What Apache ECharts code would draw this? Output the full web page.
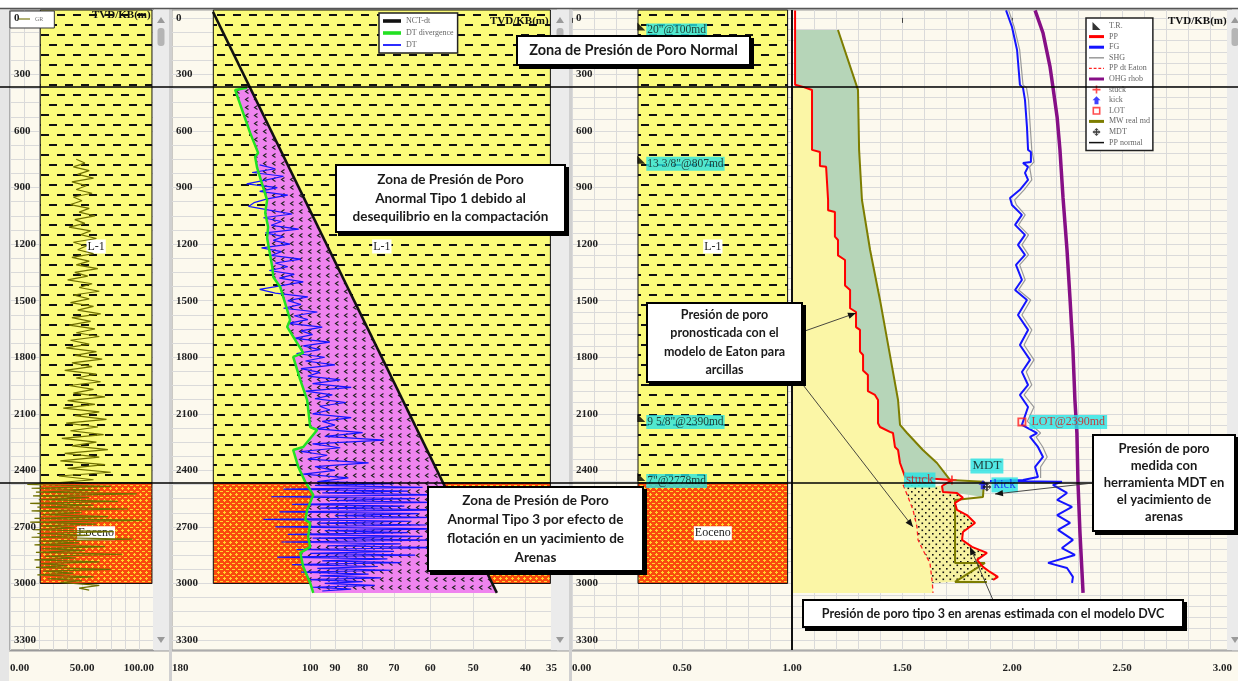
<!DOCTYPE html>
<html>
<head>
<meta charset="utf-8">
<script src="https://cdn.jsdelivr.net/npm/echarts@6.0.0/dist/echarts.min.js"></script>
<style>
html, body { margin: 0; padding: 0; background: #fff; }
#main { width: 1238px; height: 681px; }
</style>
</head>
<body>
<div id="main"></div>
<script>
// ---- ticks / labels
var depthLabels = [0, 300, 600, 900, 1200, 1500, 1800, 2100, 2400, 2700, 3000, 3300];
var grTicks = [0, 50, 100];
var dtTicks = [180, 100, 90, 80, 70, 60, 50, 40, 35];
var dtGridTicks = [100, 90, 80, 70, 60, 50, 40];
var presTicks = [0, 0.5, 1, 1.5, 2, 2.5, 3];
var cursorDepths = [366, 2467];

// ---- lithology (TVD m)
var lithology = [
  { name: 'L-1', top: -42, base: 2467, kind: 'shale' },
  { name: 'Eoceno', top: 2467, base: 3000, kind: 'sand' }
];

// ---- track 1 : GR  [api, depth]
var grData = [
  [46,750],[52,770],[44,790],[55,810],[47,830],[58,850],[43,870],[53,890],[46,910],[57,930],[44,950],[50,970],
  [42,990],[55,1010],[48,1030],[59,1050],[45,1070],[52,1090],[41,1110],[56,1130],[49,1150],[60,1170],[44,1190],
  [53,1210],[47,1230],[58,1250],[43,1270],[55,1290],[46,1310],[61,1330],[45,1350],[54,1370],[40,1390],[57,1410],
  [48,1430],[62,1450],[44,1470],[55,1490],[42,1510],[58,1530],[47,1550],[63,1570],[43,1590],[56,1610],[41,1630],
  [59,1650],[46,1670],[62,1690],[42,1710],[55,1730],[39,1750],[60,1770],[45,1790],[64,1810],[43,1830],[57,1850],
  [38,1870],[60,1890],[46,1910],[63,1930],[41,1950],[58,1970],[44,1990],[66,2010],[40,2030],[59,2050],[37,2070],
  [62,2090],[45,2110],[67,2130],[39,2150],[61,2170],[42,2190],[65,2210],[36,2230],[60,2250],[43,2270],[68,2290],
  [38,2310],[62,2330],[35,2350],[66,2370],[40,2390],[70,2410],[34,2430],[58,2450],[30,2467],
  [12,2475],[70,2485],[15,2495],[62,2505],[18,2515],[88,2525],[16,2535],[55,2545],[20,2555],[75,2565],[14,2575],
  [58,2585],[19,2595],[82,2605],[15,2615],[50,2625],[22,2635],[68,2645],[17,2655],[92,2665],[14,2675],[60,2685],
  [21,2695],[45,2705],[16,2715],[72,2725],[19,2735],[55,2745],[15,2755],[85,2765],[20,2775],[48,2785],[17,2795],
  [66,2805],[22,2815],[52,2825],[18,2835],[78,2845],[24,2855],[46,2865],[17,2875],[62,2885],[21,2895],[40,2905],
  [18,2915],[70,2925],[23,2935],[44,2945],[19,2955],[58,2965],[26,2975],[50,2985],[35,2995],[62,3010],[48,3025],[55,3035]
];

// ---- track 2 : sonic  [us/ft, depth]
var nctDt = [[151.2, -32], [45.2, 3050]];
var dtDivergence = [
  [130.8,371],[137.6,382],[133.6,488],[129.1,610],[124.8,716],[126.4,737],[125.3,796],[122.2,897],[120.1,966],
  [121.1,1034],[119.6,1109],[120.1,1167],[117.5,1321],[117.0,1374],[113.6,1427],[110.3,1549],[108.9,1602],
  [110.3,1639],[103.0,1777],[107.5,1798],[104.3,1920],[101.3,2027],[100,2170],[97.1,2186],[103.0,2276],
  [107.5,2292],[105.2,2382],[102.1,2461],[100,2504],[98.7,2530],[101.3,2610],[102.1,2663],[100,2679],
  [100.9,2753],[100,2806],[104.3,2838],[103.0,2912],[100,2997],[98.7,3050]
];
var dtData = [
  [124,780],[116,800],[128,820],[112,840],[121,860],[131,880],[115,900],[124,920],[110,940],[120,960],[127,980],
  [130,1000],[119,1020],[108,1040],[122,1060],[113,1080],[118,1100],[105,1120],[121,1140],[112,1160],[117,1180],
  [109,1200],[123,1220],[113,1240],[118,1260],[104,1280],[116,1300],[110,1320],[119,1340],[107,1360],[114,1380],
  [103,1400],[113,1420],[124,1440],[116,1460],[101,1480],[110,1500],[104,1520],[112,1540],[97,1560],[107,1580],
  [101,1600],[110,1620],[95,1640],[104,1660],[99,1680],[107,1700],[92,1720],[103,1740],[96,1760],[106,1780],
  [94,1800],[102,1820],[90,1840],[104,1860],[96,1880],[101,1900],[88,1920],[99,1940],[84,1960],[102,1980],
  [91,2000],[98,2020],[86,2040],[96,2060],[92,2080],[99,2100],[84,2120],[95,2140],[90,2160],[97,2180],[80,2200],
  [94,2220],[73,2240],[99,2260],[88,2280],[104,2300],[93,2320],[101,2340],[78,2360],[98,2380],[90,2400],
  [103,2420],[85,2440],[97,2460],
  [70,2470],[98,2480],[62,2490],[112,2500],[66,2510],[95,2520],[58,2530],[118,2540],[64,2550],[92,2560],
  [60,2570],[108,2580],[67,2590],[96,2600],[56,2610],[114,2620],[63,2630],[90,2640],[59,2650],[122,2660],
  [65,2670],[97,2680],[61,2690],[116,2700],[57,2710],[94,2720],[66,2730],[110,2740],[62,2750],[99,2760],
  [60,2770],[113,2780],[68,2790],[93,2800],[58,2810],[106,2820],[70,2830],[100,2840],[64,2850],[115,2860],
  [72,2870],[95,2880],[68,2890],[108,2900],[75,2910],[97,2920],[71,2930],[104,2940],[78,2950],[96,2960],
  [74,2970],[101,2980],[80,2990],[94,3000],[76,3010],[99,3020],[84,3030],[95,3040]
];

// ---- track 3/4 : pressure gradients [g/cc, depth]
var ppData = [
  [1.014,-40],[1.014,355],[1.05,366],[1.091,382],[1.091,700],[1.127,711],[1.127,785],[1.155,790],[1.164,966],
  [1.164,1020],[1.195,1030],[1.195,1160],[1.209,1178],[1.209,1260],[1.241,1284],[1.241,1420],[1.264,1443],
  [1.264,1540],[1.291,1560],[1.291,1640],[1.309,1655],[1.309,1770],[1.323,1788],[1.323,1870],[1.345,1894],
  [1.345,1980],[1.377,2000],[1.391,2027],[1.391,2150],[1.4,2170],[1.445,2196],[1.459,2202],[1.468,2276],
  [1.482,2292],[1.491,2361],[1.514,2435],[1.732,2451],[1.705,2467],[1.682,2483],[1.686,2515],[1.75,2520],
  [1.777,2546],[1.741,2573],[1.75,2610],[1.795,2637],[1.832,2679],[1.777,2727],[1.773,2769],[1.818,2806],
  [1.886,2838],[1.841,2875],[1.868,2912],[1.9,2939],[1.936,2965],[1.914,2981]
];
var ppEaton = [
  [1.505,2477],[1.527,2541],[1.55,2610],[1.568,2700],[1.573,2769],[1.595,2822],[1.627,2891],[1.638,2997],[1.641,3050]
];
var fgData = [
  [1.973,-40],[2.0,48],[2.023,170],[2.036,355],[2.05,371],[2.059,435],[2.068,578],[2.073,700],[2.086,711],
  [2.086,764],[2.05,769],[2.073,790],[2.059,822],[2.073,859],[2.036,912],[1.991,955],[2.0,992],[2.045,1045],
  [2.014,1098],[2.059,1151],[2.027,1204],[2.059,1257],[2.018,1310],[2.045,1390],[2.014,1443],[2.068,1496],
  [2.027,1576],[2.073,1655],[2.036,1735],[2.082,1814],[2.045,1878],[2.073,1947],[2.036,2000],[2.073,2064],
  [2.045,2159],[2.114,2202],[2.082,2223],[2.118,2276],[2.141,2329],[2.105,2382],[2.118,2435],[2.05,2451],
  [1.9,2456],[2.227,2461],[2.186,2477],[2.25,2520],[2.205,2557],[2.273,2594],[2.205,2637],[2.264,2679],
  [2.209,2716],[2.277,2769],[2.227,2812],[2.286,2849],[2.164,2891],[2.25,2918],[2.277,2965],[2.273,2997]
];
var shgData = [
  [1.985,-40],[2.01,48],[2.035,170],[2.05,355],[2.066,371],[2.075,435],[2.083,578],[2.09,700],[2.1,764],
  [2.08,790],[2.09,859],[2.055,912],[2.012,966],[2.02,992],[2.06,1045],[2.03,1098],[2.075,1151],[2.045,1204],
  [2.075,1257],[2.035,1310],[2.06,1390],[2.03,1443],[2.085,1496],[2.045,1576],[2.09,1655],[2.055,1735],
  [2.1,1814],[2.065,1878],[2.09,1947],[2.055,2000],[2.1,2064],[2.07,2140],[2.13,2202],[2.11,2223],[2.14,2276],
  [2.16,2329],[2.13,2382],[2.13,2440]
];
var ohgData = [
  [2.105,-40],[2.141,80],[2.173,260],[2.186,366],[2.205,525],[2.218,700],[2.232,955],[2.25,1231],[2.264,1496],
  [2.277,1761],[2.286,2027],[2.295,2202],[2.3,2467],[2.309,2732],[2.323,3050]
];
var mwData = [
  [1.209,64],[1.3,382],[1.305,700],[1.318,966],[1.355,1231],[1.4,1496],[1.441,1761],[1.482,2027],[1.491,2159],
  [1.523,2202],[1.595,2292],[1.659,2361],[1.718,2451],[1.873,2461],[1.868,2541],[1.741,2557],[1.741,2891],
  [1.877,2891],[1.741,2992],[1.886,2992]
];
var ppNormal = [[1.0,-42],[1.0,3353]];
var casingShoes = [
  { label: '20"@100md', depth: 45 },
  { label: '13 3/8"@807md', depth: 753 },
  { label: '9 5/8"@2390md', depth: 2122 },
  { label: '7"@2778md', depth: 2435 }
];
var stuckPt = [1.727, 2451];
var kickPt = [1.868, 2477];
var lotPt = [2.045, 2143];
var mdtPt = [1.886, 2488];

// ---- layout
var DMIN = -42, DMAX = 3353;
var PLOT_TOP = 10, PLOT_H = 640;
var LITHO_GR = [21, 98.6], LITHO_DT = [151, 36], LITHO_P = [0.30, 0.98], TR_X = 0.315;
var SERIF = '"Liberation Serif", "Times New Roman", serif';
var NOTE_FONT = 'Lato, "Open Sans", sans-serif';
var GRID_LINE = '#dadada';

var gridDepths = [];
for (var d = 0; d <= 3300; d += 75) gridDepths.push(d);
var gridDepthsP = [];
for (var d2 = 0; d2 <= 3300; d2 += 60) gridDepthsP.push(d2);

// legend icons for curves
var ICON_LINE = 'path://M0,0H16V1.6H0Z';
var ICON_THICK = 'path://M0,0H16V3.2H0Z';
var ICON_DASH = 'path://M0,0H3V1.5H0ZM5,0H8V1.5H5ZM10,0H13V1.5H10ZM15,0H16V1.5H15Z';

// ---- fill patterns
function makePattern(w, h, draw) {
  var c = document.createElement('canvas');
  c.width = w; c.height = h;
  draw(c.getContext('2d'));
  return { image: c, repeat: 'repeat' };
}
var shaleFill = makePattern(16, 20, function (ctx) {
  ctx.fillStyle = '#fbfb7a'; ctx.fillRect(0, 0, 16, 20);
  ctx.fillStyle = '#111';
  ctx.fillRect(1, 4, 8, 2);
  ctx.fillRect(9, 14, 8, 2); ctx.fillRect(-7, 14, 8, 2);
});
var sandFill = makePattern(6, 6, function (ctx) {
  ctx.fillStyle = '#fa4a0e'; ctx.fillRect(0, 0, 6, 6);
  ctx.fillStyle = '#ffd52e';
  ctx.fillRect(1, 2, 3, 1); ctx.fillRect(2, 1, 1, 3);
  ctx.fillRect(4, 5, 2, 1); ctx.fillRect(0, 5, 1, 1);
});
var magentaFill = makePattern(9, 8, function (ctx) {
  ctx.fillStyle = '#ef84ef'; ctx.fillRect(0, 0, 9, 8);
  ctx.strokeStyle = '#222'; ctx.lineWidth = 1.1;
  ctx.beginPath(); ctx.moveTo(5.5, 1.5); ctx.lineTo(2.5, 3.5); ctx.lineTo(5.5, 5.5); ctx.stroke();
});
var dotFill = makePattern(7, 7, function (ctx) {
  ctx.fillStyle = '#f7f2a2'; ctx.fillRect(0, 0, 7, 7);
  ctx.fillStyle = '#111';
  ctx.fillRect(1, 1, 1.6, 1.6); ctx.fillRect(4.5, 4.5, 1.6, 1.6);
});

// ---- helpers
function lithoSeries(xi, yi, xr) {
  return {
    type: 'custom', xAxisIndex: xi, yAxisIndex: yi, z: 1, silent: true,
    data: lithology.map(function (l) { return [xr[0], l.top, xr[1], l.base]; }),
    encode: { x: [0, 2], y: [1, 3] },
    renderItem: function (params, api) {
      var l = lithology[params.dataIndex];
      var p0 = api.coord([xr[0], l.top]), p1 = api.coord([xr[1], l.base]);
      var x = Math.min(p0[0], p1[0]), y = Math.min(p0[1], p1[1]);
      var w = Math.abs(p1[0] - p0[0]), h = Math.abs(p1[1] - p0[1]);
      var mid = api.coord([xr[0], (l.top + l.base) / 2]);
      return {
        type: 'group',
        children: [
          { type: 'rect', shape: { x: x, y: y, width: w, height: h },
            style: { fill: l.kind === 'shale' ? shaleFill : sandFill, stroke: '#111', lineWidth: 1 } },
          { type: 'text', x: x + w / 2, y: mid[1],
            style: { text: l.name, fill: '#222', font: '12px ' + SERIF, align: 'center', verticalAlign: 'middle',
                     backgroundColor: '#fff', padding: [1, 1] } }
        ]
      };
    }
  };
}

function fillSeries(xi, yi, getPts, fill, z) {
  return {
    type: 'custom', xAxisIndex: xi, yAxisIndex: yi, z: z, silent: true,
    data: [getPts()[0]],
    renderItem: function (params, api) {
      var pts = getPts().map(function (p) { return api.coord(p); });
      return { type: 'polygon', shape: { points: pts }, style: { fill: fill } };
    }
  };
}

function lineSeries(name, xi, yi, data, color, width, z, dashed) {
  return {
    name: name, type: 'line', xAxisIndex: xi, yAxisIndex: yi, data: data, symbol: 'none', z: z,
    itemStyle: { color: color },
    lineStyle: { color: color, width: width, type: dashed ? [4, 3] : 'solid' }
  };
}

function between(arr, a, b) {
  return arr.filter(function (p) { return p[1] >= a && p[1] <= b; });
}

function depthAxes(gi, grid) {
  return [
    { gridIndex: gi, type: 'value', inverse: true, min: DMIN, max: DMAX, position: 'left', z: 6,
      axisLine: { show: false }, axisTick: { show: false }, splitLine: { show: false },
      axisLabel: { inside: true, margin: 4, customValues: depthLabels, color: '#222',
                   formatter: function (v) { return String(v); },
                   fontFamily: SERIF, fontWeight: 'bold', fontSize: 11 } },
    { gridIndex: gi, type: 'value', inverse: true, min: DMIN, max: DMAX, position: 'right', z: 0,
      axisLine: { show: false }, axisLabel: { show: false },
      axisTick: { show: false, customValues: grid },
      splitLine: { show: true, lineStyle: { color: GRID_LINE, width: 1 } } }
  ];
}

var bottomLabel = { color: '#222', fontFamily: SERIF, fontWeight: 'bold', fontSize: 11, margin: 7,
                    alignMinLabel: 'left', alignMaxLabel: 'right' };

var SYM_TR = 'path://M0,0L0,10L10,10Z';
var SYM_STUCK = 'path://M4,0H6V4H10V6H6V10H4V6H0V4H4Z';
var SYM_KICK = 'path://M5,0L10,5H7.5V10H2.5V5H0Z';
var SYM_LOT = 'path://M0,0H10V10H0ZM2,2V8H8V2Z';
var SYM_MDT = 'path://M5,0L7.5,2.5H6V4H7.5V2.5L10,5L7.5,7.5V6H6V7.5H7.5L5,10L2.5,7.5H4V6H2.5V7.5L0,5L2.5,2.5V4H4V2.5H2.5Z';

function eventSeries(name, pt, symbol, color, label) {
  return {
    name: name, type: 'scatter', xAxisIndex: 4, yAxisIndex: 4, z: 8,
    symbol: symbol, symbolSize: 9, itemStyle: { color: color },
    label: label, data: [{ name: name, value: pt }]
  };
}
function cyanLabel(text, color, pos, dist, size) {
  return { show: true, formatter: text, position: pos, distance: dist, color: color,
           backgroundColor: '#27e4e4', padding: [1, 2], fontFamily: SERIF, fontSize: size };
}

// ---- chart
var chart = echarts.init(document.getElementById('main'), null, { renderer: 'canvas' });

var legendText = { fontFamily: SERIF, fontSize: 8, color: '#666' };
var option = {
  animation: false,
  backgroundColor: '#e6e6e6',
  title: [
    { text: 'TVD/KB(m)', left: 92, top: 10, padding: 0, textStyle: { fontFamily: SERIF, fontWeight: 'bold', fontSize: 11, color: '#111' } },
    { text: 'TVD/KB(m)', left: 490, top: 16, padding: 0, textStyle: { fontFamily: SERIF, fontWeight: 'bold', fontSize: 11, color: '#111' } },
    { text: 'TVD/KB(m)', left: 1168, top: 16, padding: 0, textStyle: { fontFamily: SERIF, fontWeight: 'bold', fontSize: 11, color: '#111' } }
  ],
  legend: [
    { data: [{ name: 'GR', icon: ICON_LINE }], left: 10, top: 11, z: 5, orient: 'vertical', itemWidth: 11, itemHeight: 8, itemGap: 2,
      padding: [5, 11, 6, 9], backgroundColor: '#fff', borderColor: '#333', borderWidth: 1,
      textStyle: { fontFamily: SERIF, fontSize: 6, color: '#777' }, selectedMode: false },
    { data: [{ name: 'NCT-dt', icon: ICON_THICK }, { name: 'DT divergence', icon: ICON_THICK }, { name: 'DT', icon: ICON_LINE }],
      left: 379, top: 13, z: 5, orient: 'vertical',
      itemWidth: 18, itemHeight: 8, itemGap: 4, padding: [4, 4, 4, 4], backgroundColor: '#fff',
      borderColor: '#222', borderWidth: 1.5, textStyle: legendText, selectedMode: false },
    { data: ['T.R.', { name: 'PP', icon: ICON_THICK }, { name: 'FG', icon: ICON_THICK }, { name: 'SHG', icon: ICON_LINE },
             { name: 'PP dt Eaton', icon: ICON_DASH }, { name: 'OHG rhob', icon: ICON_THICK }, 'stuck', 'kick', 'LOT',
             { name: 'MW real md', icon: ICON_THICK }, 'MDT', { name: 'PP normal', icon: ICON_LINE }],
      left: 1086, top: 18, z: 5, orient: 'vertical', itemWidth: 15, itemHeight: 8, itemGap: 2.6,
      padding: [4, 3, 4, 3], backgroundColor: '#fff', borderColor: '#222', borderWidth: 1.5,
      textStyle: legendText, selectedMode: false }
  ],
  grid: [
    { left: 10, top: PLOT_TOP, width: 144, height: PLOT_H, show: true, backgroundColor: '#fcf9ee', borderColor: '#777', borderWidth: 1 },
    { left: 172, top: PLOT_TOP, width: 385, height: PLOT_H, show: true, backgroundColor: '#fcf9ee', borderColor: '#999', borderWidth: 1 },
    { left: 572, top: PLOT_TOP, width: 660, height: PLOT_H, show: true, backgroundColor: '#fcf9ee', borderColor: '#999', borderWidth: 1 }
  ],
  xAxis: [
    { gridIndex: 0, type: 'value', min: 0, max: 100, position: 'bottom', offset: 6,
      axisLine: { show: false }, splitLine: { show: false },
      axisTick: { show: true, length: 5, customValues: [50], lineStyle: { color: '#444' } },
      axisLabel: Object.assign({ customValues: grTicks, formatter: function (v) { return v.toFixed(2); } }, bottomLabel) },
    { gridIndex: 0, type: 'value', min: 0, max: 100, interval: 10, position: 'top',
      axisLine: { show: false }, axisTick: { show: false }, axisLabel: { show: false },
      splitLine: { show: true, lineStyle: { color: GRID_LINE } } },
    { gridIndex: 1, type: 'log', min: 35, max: 180, inverse: true, position: 'bottom', offset: 6,
      axisLine: { show: false }, splitLine: { show: false }, axisTick: { show: false },
      axisLabel: Object.assign({ customValues: dtTicks, formatter: function (v) { return String(Math.round(v)); } }, bottomLabel) },
    { gridIndex: 1, type: 'log', min: 35, max: 180, inverse: true, position: 'top',
      axisLine: { show: false }, axisLabel: { show: false },
      axisTick: { show: false, customValues: dtGridTicks },
      splitLine: { show: true, lineStyle: { color: GRID_LINE } } },
    { gridIndex: 2, type: 'value', min: 0, max: 3, position: 'bottom', offset: 6,
      axisLine: { show: false }, splitLine: { show: false },
      axisTick: { show: true, length: 5, customValues: presTicks, lineStyle: { color: '#444' } },
      axisLabel: Object.assign({ customValues: presTicks, formatter: function (v) { return v.toFixed(2); } }, bottomLabel) },
    { gridIndex: 2, type: 'value', min: 0, max: 3, interval: 0.1, position: 'top',
      axisLine: { show: false }, axisTick: { show: false }, axisLabel: { show: false },
      splitLine: { show: true, lineStyle: { color: GRID_LINE } } }
  ],
  yAxis: [].concat(depthAxes(0, gridDepths), depthAxes(1, gridDepths), depthAxes(2, gridDepthsP)),
  series: [
    // track 1
    lithoSeries(0, 0, LITHO_GR),
    lineSeries('GR', 0, 0, grData, '#6f6f00', 1.2, 3),

    // track 2
    lithoSeries(2, 2, LITHO_DT),
    {
      type: 'custom', xAxisIndex: 2, yAxisIndex: 2, z: 2, silent: true,
      data: [dtDivergence[0]],
      renderItem: function (params, api) {
        var a = api.coord(nctDt[0]), b = api.coord(nctDt[1]);
        var g = dtDivergence.map(function (p) { return api.coord(p); });
        var t = (g[0][1] - a[1]) / (b[1] - a[1]);
        var pts = g.concat([b, [a[0] + t * (b[0] - a[0]), g[0][1]]]);
        return { type: 'polygon', shape: { points: pts }, style: { fill: magentaFill } };
      }
    },
    lineSeries('DT', 2, 2, dtData, '#1515ff', 1.2, 3),
    lineSeries('NCT-dt', 2, 2, nctDt, '#111', 2.5, 4),
    lineSeries('DT divergence', 2, 2, dtDivergence, '#22e022', 2.5, 5),

    // track 3/4
    lithoSeries(4, 4, LITHO_P),
    fillSeries(4, 4, function () {
      return [[ppNormal[0][0], 366]].concat(between(ppData, 366, 2440), ppEaton, [[ppNormal[0][0], 3050]]);
    }, '#fbf6a6', 2),
    fillSeries(4, 4, function () {
      return [[ppData[0][0], mwData[0][1]]].concat(between(ppData, 65, 2451), between(mwData, 0, 2451).reverse());
    }, '#b6d5b8', 2),
    fillSeries(4, 4, function () {
      return between(ppData, 2467, 2520).concat(between(mwData, 2455, 2541).reverse());
    }, '#b6d5b8', 2),
    fillSeries(4, 4, function () {
      return between(ppEaton, 2470, 2997).concat(between(ppData, 2480, 2990).reverse());
    }, dotFill, 2),
    lineSeries('PP normal', 4, 4, ppNormal, '#111', 2, 3),
    lineSeries('MW real md', 4, 4, mwData, '#7d7d00', 2, 3),
    lineSeries('SHG', 4, 4, shgData, '#9a9a9a', 1.2, 3),
    lineSeries('FG', 4, 4, fgData, '#1414ff', 2, 4),
    lineSeries('OHG rhob', 4, 4, ohgData, '#860f86', 3.5, 4),
    lineSeries('PP dt Eaton', 4, 4, ppEaton, '#ff2020', 1.3, 4, true),
    lineSeries('PP', 4, 4, ppData, '#ff0000', 2, 5),
    {
      name: 'T.R.', type: 'scatter', xAxisIndex: 4, yAxisIndex: 4, z: 8,
      symbol: SYM_TR, symbolSize: 8, itemStyle: { color: '#000' },
      label: { show: true, formatter: '{b}', position: 'right', distance: 1, offset: [0, 4],
               color: '#111', backgroundColor: '#27e4e4', padding: [1, 1], fontFamily: SERIF, fontSize: 11.5 },
      data: casingShoes.map(function (c) { return { name: c.label, value: [TR_X, c.depth] }; })
    },
    eventSeries('stuck', stuckPt, SYM_STUCK, '#ff2020', cyanLabel('stuck', '#e01010', 'left', 12, 13)),
    eventSeries('kick', kickPt, SYM_KICK, '#1010ff', cyanLabel('kick', '#1010ff', 'right', 4, 13)),
    eventSeries('LOT', lotPt, SYM_LOT, '#ff2020', cyanLabel('LOT@2390md', '#e01010', 'right', 3, 12)),
    eventSeries('MDT', mdtPt, SYM_MDT, '#111', cyanLabel('MDT', '#111', 'top', 9, 13))
  ]
};
chart.setOption(option);

// ---- overlays: frame, scrollbars, cursor lines, notes
var g = [];
g.push({ type: 'rect', shape: { x: 0, y: 0, width: 1238, height: 8 }, style: { fill: '#fff' }, z: 40 });
g.push({ type: 'line', shape: { x1: 0, y1: 8.5, x2: 1238, y2: 8.5 }, style: { stroke: '#555', lineWidth: 1.5 }, z: 41 });

// bottom strips
[[9, 161], [172, 398], [572, 666]].forEach(function (s) {
  g.push({ type: 'rect', shape: { x: s[0], y: 651, width: s[1], height: 30 }, style: { fill: '#fcf9ee' }, z: -5 });
  g.push({ type: 'line', shape: { x1: s[0], y1: 651, x2: s[0] + s[1], y2: 651 }, style: { stroke: '#999', lineWidth: 1 }, z: -4 });
});

// scrollbars
[[153, 16], [551, 18], [1227, 16]].forEach(function (s) {
  var cx = s[0] + s[1] / 2;
  g.push({ type: 'rect', shape: { x: s[0], y: 10, width: s[1], height: 640 }, style: { fill: '#ebebeb' }, z: 40 });
  g.push({ type: 'polygon', shape: { points: [[cx - 4, 23], [cx + 4, 23], [cx, 17]] }, style: { fill: '#9a9a9a' }, z: 41 });
  g.push({ type: 'rect', shape: { x: cx - 3.5, y: 28, width: 7, height: 18, r: 3 }, style: { fill: '#b5b5b5' }, z: 41 });
  g.push({ type: 'polygon', shape: { points: [[cx - 4, 637], [cx + 4, 637], [cx, 643]] }, style: { fill: '#9a9a9a' }, z: 41 });
});
g.push({ type: 'rect', shape: { x: 169, y: 9, width: 3, height: 672 }, style: { fill: '#d0d0d0' }, z: 40 });
g.push({ type: 'rect', shape: { x: 569, y: 9, width: 3, height: 672 }, style: { fill: '#d0d0d0' }, z: 40 });

// cursor lines
cursorDepths.forEach(function (dp) {
  var y = chart.convertToPixel({ yAxisIndex: 0 }, dp);
  g.push({ type: 'line', shape: { x1: 0, y1: y, x2: 1238, y2: y }, style: { stroke: '#000', lineWidth: 1.5 }, z: 50 });
});

// arrows
function arrow(x1, y1, x2, y2) {
  var a = Math.atan2(y2 - y1, x2 - x1), L = 8, W = 3.2;
  var c = Math.cos(a), s = Math.sin(a);
  g.push({ type: 'line', shape: { x1: x1, y1: y1, x2: x2, y2: y2 }, style: { stroke: '#333', lineWidth: 0.9 }, z: 90 });
  g.push({ type: 'polygon', shape: { points: [[x2, y2], [x2 - L * c + W * s, y2 - L * s - W * c], [x2 - L * c - W * s, y2 - L * s + W * c]] },
           style: { fill: '#111' }, z: 90 });
}
arrow(802, 332, 856, 313);
arrow(800, 381, 913, 527);
arrow(993, 600, 970, 547);
arrow(1093, 483, 995, 494);

// notes
var notes = [
  { x: 517, y: 36, w: 233, h: 29, size: 14.5, lh: 18, lines: ['Zona de Presión de Poro Normal'] },
  { x: 336, y: 165, w: 229, h: 67, size: 13.5, lh: 18.5, lines: ['Zona de Presión de Poro', 'Anormal Tipo 1 debido al', 'desequilibrio en la compactación'] },
  { x: 428, y: 487, w: 215, h: 84, size: 13.5, lh: 19, lines: ['Zona de Presión de Poro', 'Anormal Tipo 3 por efecto de', 'flotación en un yacimiento de', 'Arenas'] },
  { x: 647, y: 303, w: 155, h: 79, size: 12.5, lh: 18.5, lines: ['Presión de poro', 'pronosticada con el', 'modelo de Eaton para', 'arcillas'] },
  { x: 1093, y: 435, w: 142, h: 96, size: 13, lh: 17, lines: ['Presión de poro', 'medida con', 'herramienta MDT en', 'el yacimiento de', 'arenas'] },
  { x: 803, y: 600, w: 380, h: 27, size: 12.5, lh: 16, lines: ['Presión de poro tipo 3 en arenas estimada con el modelo DVC'] }
];
notes.forEach(function (n) {
  g.push({ type: 'rect', shape: { x: n.x, y: n.y, width: n.w, height: n.h },
           style: { fill: '#fff', stroke: '#000', lineWidth: 2, shadowColor: '#000', shadowOffsetX: 3, shadowOffsetY: 3, shadowBlur: 0 }, z: 100 });
  g.push({ type: 'rect', shape: { x: n.x, y: n.y, width: n.w, height: n.h },
           style: { fill: '#fff', stroke: '#000', lineWidth: 2 }, z: 101 });
  g.push({ type: 'text', x: n.x + n.w / 2, y: n.y + n.h / 2, z: 102,
           style: { text: n.lines.join('\n'), fill: '#1a1a1a', font: 'bold ' + n.size + 'px ' + NOTE_FONT,
                    lineHeight: n.lh, align: 'center', verticalAlign: 'middle' } });
});

chart.setOption({ graphic: g });
</script>
</body>
</html>
